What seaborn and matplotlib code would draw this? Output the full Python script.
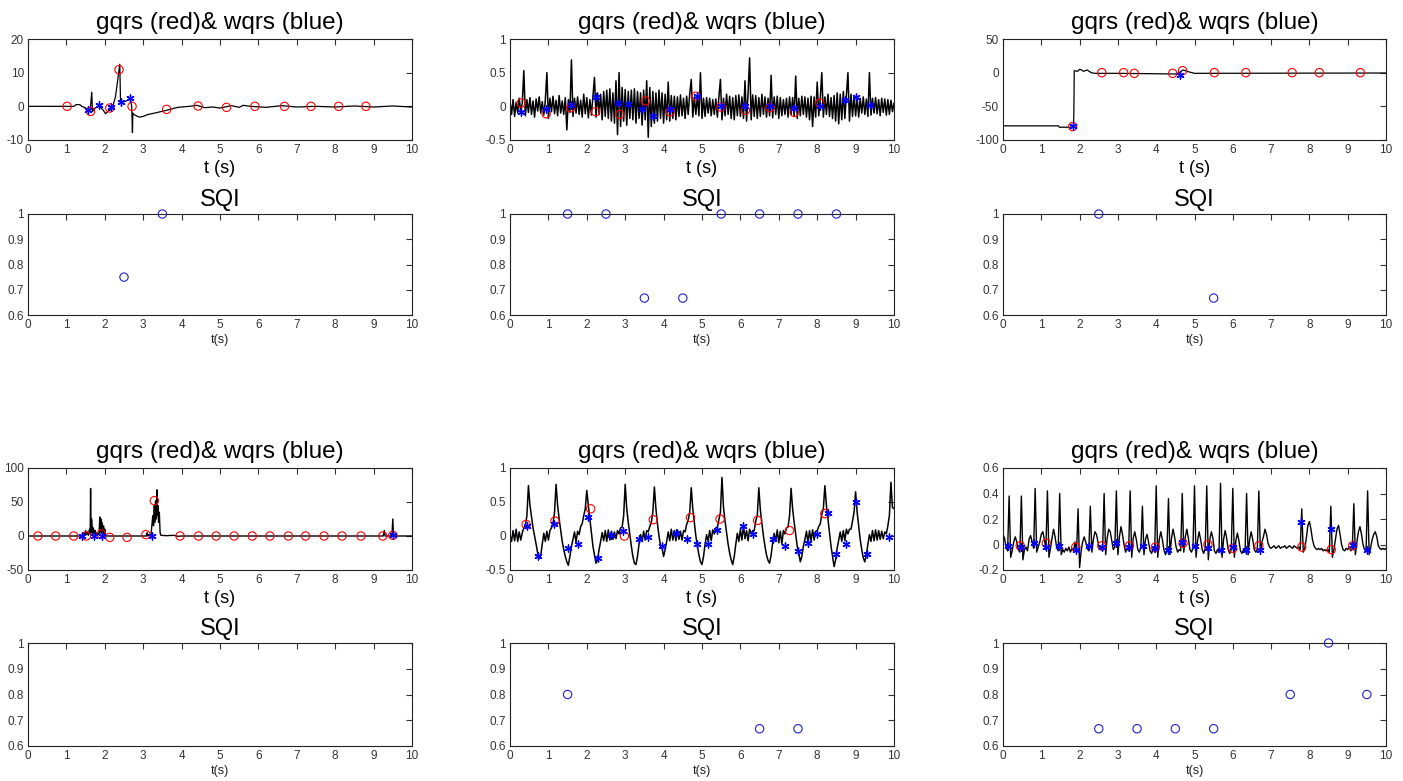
import matplotlib
matplotlib.use('Agg')
import matplotlib.pyplot as plt
import numpy as np
import seaborn as sns
from matplotlib.ticker import FuncFormatter

# ---------------- data ----------------
# record 1: piecewise trace (t, v)
ecg1_t = [0, 1.2, 1.25, 1.35, 1.4, 1.5, 1.58, 1.62, 1.66, 1.68, 1.70, 1.75, 1.85,
          1.95, 2.02, 2.08, 2.15, 2.2, 2.28, 2.35, 2.39, 2.41, 2.45, 2.55, 2.62,
          2.66, 2.70, 2.72, 2.73, 2.75, 2.82, 2.9, 3.0, 3.1, 3.3, 3.6, 3.9, 4.2,
          4.4, 4.6, 4.8, 5.0, 5.3, 5.5, 5.6, 5.8, 6.2, 6.6, 7.0, 7.5, 8.0, 8.5,
          9.0, 9.5, 10.0]
ecg1_v = [0, 0, 0.5, 0.5, 0, -0.5, -1, -1.2, 4.2, -1.5, -1.2, -0.5, 0,
          -1, -2.2, -1.5, -1, -0.5, 3, 9, 12.5, 1, 1.3, 1.5, 2.0,
          2.5, 0, -7.8, -2, -2.4, -2.8, -3.2, -3, -2.5, -2, -1.2, -0.3, 0,
          0.3, -0.4, -0.2, -0.5, 0.2, -0.3, 0.3, 0, -0.3, 0.2, -0.2, 0, -0.2, 0.1,
          -0.2, 0.1, -0.2]
gq1_t = [1.02, 1.63, 2.13, 2.37, 2.71, 3.61, 4.43, 5.17, 5.91, 6.68, 7.37, 8.09, 8.80]
gq1_v = [0, -1.5, -0.5, 10.9, 0, -0.9, 0.1, -0.3, 0, 0, 0, 0, 0]
wq1_t = [1.57, 1.84, 2.16, 2.43, 2.65]
wq1_v = [-1.2, 0.3, -0.3, 1.3, 2.5]
sqi1_t = [2.5, 3.5]
sqi1_v = [0.75, 1.0]

# record 2: sampled every 0.04 s
ecg2_v = [
    0.08, -0.12, 0.10, -0.15, 0.06, -0.10, 0.12, -0.08, 0.05, 0.53,
    -0.14, 0.10, -0.09, 0.13, -0.12, 0.08, -0.16, 0.11, -0.07, 0.14,
    -0.10, 0.07, -0.13, 0.09, 0.50, -0.18, 0.12, -0.08, 0.15, -0.11,
    0.09, -0.14, 0.16, -0.10, 0.08, -0.12, 0.13, -0.35, 0.10, -0.09,
    0.69, -0.15, 0.12, -0.10, 0.14, -0.12, 0.09, -0.16, 0.18, -0.11,
    0.13, -0.17, 0.10, -0.13, 0.15, 0.43, -0.16, 0.20, -0.12, 0.18,
    -0.20, 0.22, -0.15, 0.24, -0.18, 0.26, -0.22, 0.20, -0.25, 0.38,
    -0.42, 0.50, -0.30, 0.28, -0.22, 0.25, -0.28, 0.22, -0.18, 0.24,
    -0.20, 0.26, -0.25, 0.22, -0.18, 0.20, -0.28, 0.24, -0.20, 0.38,
    -0.46, 0.28, -0.30, 0.22, -0.25, 0.20, -0.22, 0.24, -0.18, 0.20,
    -0.25, 0.18, -0.20, 0.36, -0.22, 0.16, -0.18, 0.15, -0.20, 0.14,
    -0.15, 0.17, -0.14, 0.12, -0.18, 0.15, -0.12, 0.18, 0.40, -0.16,
    0.14, -0.12, 0.16, -0.14, 0.50, -0.18, 0.12, -0.15, 0.13, -0.10,
    0.12, -0.14, 0.10, -0.12, 0.11, -0.16, 0.14, 0.40, -0.20, 0.12,
    -0.14, 0.18, -0.12, 0.15, -0.18, 0.13, -0.20, 0.16, -0.14, 0.17,
    -0.15, 0.14, -0.18, 0.38, -0.22, 0.20, 0.72, -0.20, 0.17, -0.15,
    0.16, -0.18, 0.13, -0.15, 0.18, -0.12, 0.14, -0.16, 0.12, -0.14,
    0.46, -0.17, 0.14, -0.12, 0.15, -0.18, 0.13, -0.14, 0.10, -0.12,
    0.12, -0.16, 0.14, -0.12, 0.13, -0.15, 0.45, -0.18, 0.12, -0.14,
    0.15, -0.12, 0.14, -0.16, 0.12, -0.20, 0.15, -0.30, 0.14, -0.16,
    0.36, -0.14, 0.12, 0.50, -0.16, 0.14, -0.12, 0.18, -0.15, 0.13,
    -0.18, 0.16, -0.22, 0.20, -0.26, 0.18, -0.20, 0.22, -0.18, 0.16,
    0.50, -0.22, 0.18, -0.15, 0.16, -0.14, 0.13, -0.16, 0.12, -0.10,
    0.14, -0.12, 0.11, -0.15, 0.50, -0.13, 0.12, -0.10, 0.13, -0.11,
    0.10, -0.14, 0.12, -0.09, 0.11, -0.13, 0.10, -0.12, 0.09, -0.08,
    0.05]
gq2_t = [0.29, 0.94, 1.58, 2.23, 2.86, 3.53, 4.17, 4.84, 5.49, 6.13, 6.77, 7.40, 8.07]
gq2_v = [0.05, -0.11, -0.02, -0.08, -0.12, 0.08, -0.08, 0.15, -0.01, -0.06, -0.02, -0.09, 0.05]
wq2_t = [0.29, 0.94, 1.58, 2.23, 2.80, 3.06, 3.45, 3.73, 4.17, 4.86, 5.49, 6.13,
         6.77, 7.40, 8.07, 8.72, 9.01, 9.38]
wq2_v = [-0.08, -0.04, 0.02, 0.14, 0.05, 0.04, -0.04, -0.14, -0.04, 0.15, 0.0, 0.01,
         0.0, -0.02, 0.0, 0.09, 0.14, 0.02]
sqi2_t = [1.5, 2.5, 3.5, 4.5, 5.5, 6.5, 7.5, 8.5]
sqi2_v = [1.0, 1.0, 0.667, 0.667, 1.0, 1.0, 1.0, 1.0]

# record 3: piecewise trace
ecg3_t = [0, 1.45, 1.47, 1.84, 1.85, 1.86, 1.95, 2.0, 2.05, 2.1, 2.2, 2.3, 2.4,
          3.0, 3.8, 4.5, 4.6, 4.7, 4.8, 5.0, 10]
ecg3_v = [-79, -79, -81, -81, -60, 3, 2, 5, 4, 2, 4, 0, -1,
          -1, -1.5, -2, 0, 4, 2, -1, -0.5]
gq3_t = [1.82, 2.58, 3.15, 3.43, 4.43, 4.69, 5.52, 6.34, 7.55, 8.26, 9.33]
gq3_v = [-80, 0, 0, -1, -1, 3, 0, 0, 0, 0, 0]
wq3_t = [1.84, 4.61]
wq3_v = [-79, -3]
sqi3_t = [2.5, 5.5]
sqi3_v = [1.0, 0.667]

# record 4: piecewise trace
ecg4_t = [0, 1.4, 1.45, 1.47, 1.5, 1.52, 1.55, 1.57, 1.6, 1.62, 1.63, 1.64, 1.66,
          1.68, 1.7, 1.73, 1.75, 1.77, 1.8, 1.85, 1.87, 1.88, 1.9, 1.91, 1.93,
          1.95, 1.97, 1.99, 2.0, 2.02, 3.08, 3.1, 3.12, 3.14, 3.2, 3.25, 3.27,
          3.29, 3.3, 3.32, 3.34, 3.36, 3.37, 3.38, 3.4, 3.42, 3.44, 3.46, 3.6,
          3.8, 3.9, 4.0, 9.25, 9.28, 9.3, 9.45, 9.48, 9.5, 9.52, 10]
ecg4_v = [0, 0, 5, 0, 8, 2, 6, 1, 10, 3, 70, 5, 25,
          2, 12, 3, 8, 1, 5, 2, 28, 5, 25, 4, 20,
          3, 15, 2, 10, 0, 0, 5, 0, 2, 0, 30, 15,
          45, 20, 52, 25, 68, 30, 45, 20, 35, 5, 1, 0.5,
          1, -0.5, 0, 0, 8, 0, 0, 3, 25, 0, 0]
gq4_t = [0.26, 0.72, 1.19, 1.52, 1.91, 2.13, 2.58, 3.07, 3.29, 3.96, 4.44, 4.90,
         5.37, 5.84, 6.30, 6.78, 7.23, 7.71, 8.18, 8.67, 9.24, 9.50]
gq4_v = [0, 0, 0, 0, 3, -2, -2, 2, 52, 0, 0, 0, 0, 0, 0, 0, 0, 0, 0, 0, 0, 1]
wq4_t = [1.41, 1.71, 1.93, 3.23, 9.50]
wq4_v = [0, 0, 0, 0, 1]
sqi4_t = []
sqi4_v = []

# record 5: sampled every 0.04 s
ecg5_v = [
    0.02, -0.08, 0.08, -0.07, 0.10, -0.08, 0.06, -0.06, 0.05, 0.12,
    0.15, 0.30, 0.74, 0.45, 0.28, 0.12, 0.00, -0.12, -0.25, -0.33,
    -0.28, -0.12, 0.04, -0.08, 0.07, -0.06, 0.08, 0.12, 0.18, 0.35,
    0.76, 0.45, 0.25, 0.08, -0.08, -0.20, -0.30, -0.38, -0.43, -0.30,
    -0.15, -0.05, 0.06, -0.09, 0.07, 0.02, 0.14, 0.18, 0.30, 0.40,
    0.67, 0.45, 0.25, 0.05, -0.15, -0.28, -0.40, -0.35, -0.20, -0.08,
    0.05, -0.07, 0.08, -0.08, 0.09, -0.06, 0.07, -0.05, 0.06, -0.04,
    0.08, 0.03, 0.12, 0.13, 0.30, 0.76, 0.40, 0.20, 0.02, -0.15,
    -0.30, -0.40, -0.42, -0.30, -0.12, 0.02, -0.08, 0.07, -0.06, 0.08,
    0.06, 0.14, 0.20, 0.35, 0.72, 0.40, 0.18, 0.00, -0.15, -0.18,
    -0.30, -0.20, -0.08, 0.06, -0.07, 0.10, -0.06, 0.08, -0.07, 0.09,
    -0.05, 0.07, -0.06, 0.08, 0.06, 0.17, 0.23, 0.35, 0.71, 0.40,
    0.20, 0.00, -0.15, -0.28, -0.38, -0.42, -0.30, -0.12, 0.02, -0.08,
    0.08, -0.07, 0.09, 0.03, 0.12, 0.13, 0.24, 0.35, 0.86, 0.42,
    0.22, 0.05, -0.12, -0.25, -0.35, -0.42, -0.30, -0.12, 0.04, -0.08,
    0.10, -0.06, 0.15, -0.04, 0.08, -0.07, 0.10, 0.03, 0.08, 0.08,
    0.22, 0.30, 0.71, 0.38, 0.18, 0.00, -0.15, -0.28, -0.36, -0.40,
    -0.28, -0.10, 0.04, -0.08, 0.09, -0.10, 0.07, -0.12, 0.08, 0.03,
    0.12, 0.13, 0.30, 0.70, 0.40, 0.20, 0.02, -0.15, -0.25, -0.38,
    -0.30, -0.15, -0.05, 0.07, -0.10, 0.08, -0.07, 0.09, -0.06, 0.07,
    0.08, 0.14, 0.18, 0.32, 0.40, 0.74, 0.45, 0.25, 0.05, -0.15,
    -0.30, -0.45, -0.35, -0.18, -0.06, 0.06, -0.08, 0.08, -0.07, 0.10,
    0.03, 0.10, 0.10, 0.22, 0.35, 0.65, 0.35, 0.15, -0.05, -0.20,
    -0.32, -0.38, -0.28, -0.12, 0.02, -0.08, 0.08, -0.07, 0.09, -0.06,
    0.08, -0.05, 0.07, -0.04, 0.06, 0.03, 0.15, 0.30, 0.79, 0.42,
    0.40]
gq5_t = [0.42, 1.17, 2.10, 2.98, 3.73, 4.70, 5.47, 6.45, 7.28, 8.20]
gq5_v = [0.17, 0.22, 0.40, 0.0, 0.24, 0.27, 0.25, 0.23, 0.08, 0.33]
wq5_t = [0.45, 0.72, 1.15, 1.50, 1.77, 2.02, 2.30, 2.63, 2.94, 3.37, 3.60, 3.95,
         4.33, 4.60, 4.88, 5.15, 5.40, 6.07, 6.33, 6.84, 7.16, 7.50, 7.76, 8.00,
         8.28, 8.50, 8.76, 9.02, 9.30, 9.87]
wq5_v = [0.14, -0.30, 0.17, -0.17, -0.12, 0.28, -0.32, 0.01, 0.08, -0.04, -0.01, -0.15,
         0.04, -0.04, -0.12, -0.12, 0.09, 0.14, 0.03, -0.05, -0.15, -0.22, -0.10, 0.03,
         0.34, -0.26, -0.12, 0.50, -0.27, -0.01]
sqi5_t = [1.5, 6.5, 7.5]
sqi5_v = [0.8, 0.667, 0.667]

# record 6: sampled every 0.04 s
ecg6_v = [
    0.08, 0.05, -0.02, -0.05, 0.38, -0.10, -0.05, 0.02, 0.06, 0.02,
    -0.04, -0.06, 0.38, -0.12, -0.04, -0.02, -0.05, 0.04, 0.07, 0.02,
    -0.03, 0.44, -0.06, -0.02, 0.02, 0.08, 0.10, 0.04, -0.04, 0.42,
    -0.10, -0.03, 0.05, 0.12, 0.06, -0.02, -0.05, 0.40, -0.08, -0.04,
    -0.06, -0.03, -0.05, -0.02, -0.06, -0.03, -0.05, 0.02, -0.06, 0.28,
    -0.18, -0.05, 0.02, 0.06, 0.02, -0.03, -0.05, 0.30, -0.06, 0.04,
    0.10, 0.08, 0.02, -0.04, -0.02, -0.05, 0.40, -0.08, 0.05, 0.12,
    0.10, 0.03, -0.04, -0.02, 0.42, -0.08, 0.06, 0.14, 0.08, 0.00,
    -0.06, -0.03, -0.05, 0.42, -0.10, 0.05, 0.10, 0.04, -0.04, -0.06,
    -0.02, 0.30, -0.08, 0.04, 0.08, 0.02, -0.05, -0.07, -0.03, -0.06,
    0.46, -0.10, 0.04, 0.10, 0.04, -0.04, -0.08, -0.05, 0.36, -0.08,
    0.05, 0.12, 0.06, -0.02, -0.06, -0.04, -0.05, 0.40, -0.06, 0.06,
    0.12, 0.05, -0.04, -0.06, -0.03, 0.46, -0.10, 0.03, 0.10, 0.04,
    -0.04, -0.07, -0.03, 0.46, -0.12, 0.04, 0.10, 0.05, -0.05, -0.07,
    -0.04, -0.06, 0.48, -0.10, 0.04, 0.11, 0.05, -0.04, -0.07, -0.04,
    0.44, -0.10, 0.03, 0.09, 0.03, -0.05, -0.07, -0.04, -0.06, 0.40,
    -0.08, 0.04, 0.10, 0.04, -0.04, -0.06, -0.04, 0.42, -0.06, 0.02,
    0.06, 0.12, 0.08, 0.01, -0.02, -0.03, -0.02, -0.01, -0.03, -0.02,
    -0.01, -0.03, -0.02, -0.02, -0.01, -0.03, -0.02, -0.01, -0.02, -0.03,
    -0.01, -0.02, -0.03, -0.02, -0.04, 0.28, -0.06, -0.03, 0.05, 0.15,
    0.18, 0.12, 0.04, -0.01, -0.03, -0.04, -0.03, -0.04, -0.03, -0.05,
    -0.04, -0.05, -0.04, -0.06, 0.30, -0.10, -0.04, 0.04, 0.12, 0.15,
    0.08, 0.00, -0.04, -0.05, -0.03, -0.04, -0.02, -0.05, -0.03, 0.32,
    -0.08, 0.02, 0.10, 0.14, 0.08, 0.00, -0.04, -0.05, 0.42, -0.08,
    -0.02, 0.04, 0.08, 0.10, 0.06, -0.01, -0.03, -0.04, -0.03, -0.04,
    -0.03]
gq6_t = [0.45, 1.13, 1.90, 2.58, 3.30, 3.98, 4.70, 5.35, 6.00, 6.68, 7.80, 8.57, 9.13]
gq6_v = [-0.01, 0.01, -0.02, -0.01, -0.01, -0.02, 0.01, 0.0, -0.03, -0.01, -0.02, -0.04, -0.01]
wq6_t = [0.12, 0.48, 0.80, 1.13, 1.45, 1.90, 2.25, 2.58, 2.95, 3.30, 3.65, 3.98,
         4.32, 4.68, 5.00, 5.35, 5.70, 6.00, 6.35, 6.70, 7.78, 8.57, 9.15, 9.50]
wq6_v = [-0.01, -0.02, 0.01, -0.02, -0.01, -0.04, -0.01, -0.02, 0.01, -0.02, -0.01, -0.03,
         -0.04, 0.02, -0.01, -0.03, -0.04, -0.02, -0.04, -0.04, 0.18, 0.12, 0.0, -0.04]
sqi6_t = [2.5, 3.5, 4.5, 5.5, 7.5, 8.5, 9.5]
sqi6_v = [0.667, 0.667, 0.667, 0.667, 0.8, 1.0, 0.8]

fs = 25  # samples per second for the sampled records
ecg2_t = np.arange(len(ecg2_v)) / fs
ecg5_t = np.arange(len(ecg5_v)) / fs
ecg6_t = np.arange(len(ecg6_v)) / fs

records = [
    (ecg1_t, ecg1_v, gq1_t, gq1_v, wq1_t, wq1_v, sqi1_t, sqi1_v, [-10, 0, 10, 20], 0.9),
    (ecg2_t, ecg2_v, gq2_t, gq2_v, wq2_t, wq2_v, sqi2_t, sqi2_v, [-0.5, 0, 0.5, 1], 1.1),
    (ecg3_t, ecg3_v, gq3_t, gq3_v, wq3_t, wq3_v, sqi3_t, sqi3_v, [-100, -50, 0, 50], 0.9),
    (ecg4_t, ecg4_v, gq4_t, gq4_v, wq4_t, wq4_v, sqi4_t, sqi4_v, [-50, 0, 50, 100], 1.0),
    (ecg5_t, ecg5_v, gq5_t, gq5_v, wq5_t, wq5_v, sqi5_t, sqi5_v, [-0.5, 0, 0.5, 1], 1.1),
    (ecg6_t, ecg6_v, gq6_t, gq6_v, wq6_t, wq6_v, sqi6_t, sqi6_v, [-0.2, 0, 0.2, 0.4, 0.6], 1.0),
]
sqi_ticks = [0.6, 0.7, 0.8, 0.9, 1]

# ---------------- figure ----------------
sns.set_theme(style='white')
plt.rcParams['font.family'] = ['Liberation Sans', 'DejaVu Sans']
plt.rcParams['axes.unicode_minus'] = False

W, H = 1403, 781
fig = plt.figure(figsize=(W / 100, H / 100), dpi=100)
fig.patch.set_facecolor('white')

# pixel boxes (left, right) per column, (top, bottom) per row
cols = [(28, 412), (510, 894), (1003, 1386)]
sig_rows = [(39, 140), (468, 570)]
sqi_rows = [(214, 315), (643, 746)]

fmt = FuncFormatter(lambda v, p: f'{v:g}')


def px_axes(x0, x1, y0, y1):
    return fig.add_axes([x0 / W, 1 - y1 / H, (x1 - x0) / W, (y1 - y0) / H])


def style_axes(ax, yticks):
    ax.set_xlim(0, 10)
    ax.set_xticks(range(11))
    ax.set_ylim(yticks[0], yticks[-1])
    ax.set_yticks(yticks)
    ax.xaxis.set_major_formatter(fmt)
    ax.yaxis.set_major_formatter(fmt)
    ax.tick_params(direction='in', top=True, right=True, length=4, width=0.8,
                   labelsize=8.5, colors='#333333', pad=3)
    ax.set_facecolor('white')
    for s in ax.spines.values():
        s.set_color('#222222')
        s.set_linewidth(0.8)


for i, (et, ev, gt, gv, wt, wv, st, sv, yt, lw) in enumerate(records):
    row, col = divmod(i, 3)
    x0, x1 = cols[col]

    # signal with detector annotations
    ax = px_axes(x0, x1, *sig_rows[row])
    sns.lineplot(x=et, y=ev, ax=ax, color='black', linewidth=lw,
                 estimator=None, sort=False)
    sns.scatterplot(x=gt, y=gv, ax=ax, marker='o', s=36, facecolor='none',
                    edgecolor='red', linewidth=0.8, zorder=3)
    sns.scatterplot(x=wt, y=wv, ax=ax, marker=(6, 2, 0), s=26, color='blue',
                    linewidth=1.0, zorder=4)
    style_axes(ax, yt)
    ax.set_title('gqrs (red)& wqrs (blue)', fontsize=17.5, pad=7, color='black')
    ax.set_xlabel('t (s)', fontsize=13, labelpad=3, color='black')
    ax.set_ylabel('')

    # SQI
    ax2 = px_axes(x0, x1, *sqi_rows[row])
    if len(st):
        sns.scatterplot(x=st, y=sv, ax=ax2, marker='o', s=36, facecolor='none',
                        edgecolor='#2020c8', linewidth=0.8, clip_on=False, zorder=3)
    style_axes(ax2, sqi_ticks)
    ax2.set_title('SQI', fontsize=17, pad=6, color='black')
    ax2.set_xlabel('t(s)', fontsize=9, labelpad=2, color='#222222')
    ax2.set_ylabel('')

fig.savefig('out.png', dpi=100)
